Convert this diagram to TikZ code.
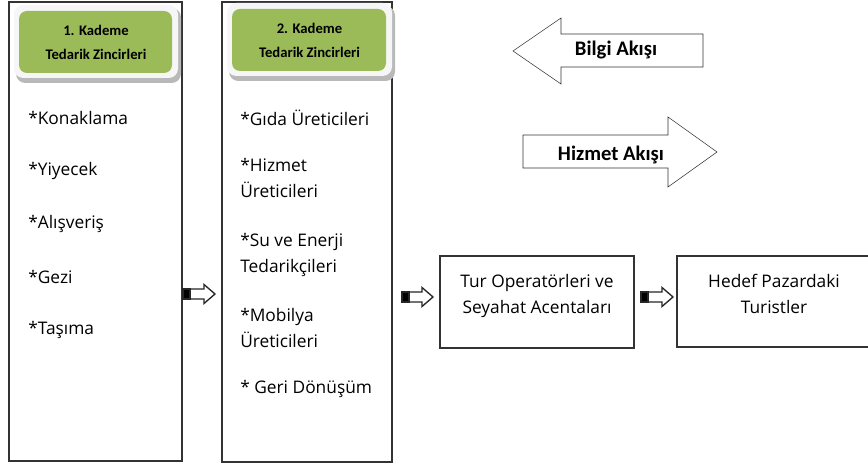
\documentclass[tikz,border=0pt]{standalone}
\usepackage{fontspec}
\setmainfont{Open Sans}
\newfontfamily\headfont{Carlito}
\usetikzlibrary{calc,positioning}

\definecolor{headgreen}{HTML}{9BBB59}

\tikzset{
  chainbox/.style={draw=black!80,line width=1pt},
  item/.style={anchor=west,align=left,inner sep=0pt,font=\fontsize{13}{19}\selectfont},
  headtext/.style={align=center,font=\headfont\bfseries\fontsize{11}{18}\selectfont},
  flowtext/.style={font=\headfont\bfseries\fontsize{15.5}{17}\selectfont}
}

% small block arrow with black tail
\newcommand\flowarr[2]{%
  \fill[black] ($(#1)+(0,-5)$) rectangle ($(#1)+(7,5)$);
  \draw[black!85,fill=white,line width=1pt,line join=miter] ($(#1)+(7,-5)$) -- ($(#2)+(-11,-5)$) -- ($(#2)+(-11,-9.5)$)
    -- (#2) -- ($(#2)+(-11,9.5)$) -- ($(#2)+(-11,5)$) -- ($(#1)+(7,5)$) -- cycle;
  \draw[black!85,line width=1pt] ($(#1)+(0,-5)$) rectangle ($(#1)+(7,5)$);
}

% green header with white frame and shadow
\newcommand\header[6]{%
  \fill[gray!55,rounded corners=7] (#1+2,#2+3) rectangle (#3+3,#4+5);
  \fill[gray!7,rounded corners=7] (#1,#2) rectangle (#3,#4);
  \fill[headgreen,rounded corners=6] (#1+5,#2+6) rectangle (#3-6,#4-5);
  \node[headtext] (#5) at ({(#1+#3)/2},{(#2+#4)/2+1}) {#6};
}

\begin{document}
\begin{tikzpicture}[x=0.75pt,y=-0.75pt]
\useasboundingbox (0,0) rectangle (868,466);

%tier 1
\draw[chainbox] (9,2) rectangle (182,461);
\header{14}{5}{178}{78}{h1}{1. Kademe\\Tedarik Zincirleri}
\node[item] (k1) at (28,118) {*Konaklama};
\node[item] (k2) at (28,171) {*Yiyecek};
\node[item] (k3) at (28,224) {*Alışveriş};
\node[item] (k4) at (28,277) {*Gezi};
\node[item] (k5) at (28,330) {*Taşıma};

%tier 2
\draw[chainbox] (222,2) rectangle (392,462);
\header{227}{3}{392}{76}{h2}{2. Kademe\\Tedarik Zincirleri}
\node[item] (g1) at (240,118) {*Gıda Üreticileri};
\node[item] (g2) at (240,178) {*Hizmet\\Üreticileri};
\node[item] (g3) at (240,255) {*Su ve Enerji\\Tedarikçileri};
\node[item] (g4) at (240,328) {*Mobilya\\Üreticileri};
\node[item] (g5) at (240,389) {* Geri Dönüşüm};

%operators and tourists
\draw[chainbox] (440,256) rectangle (634,348);
\node[item,anchor=center,align=center] (tur) at (537,296) {Tur Operatörleri ve\\Seyahat Acentaları};
\draw[chainbox] (677,256) rectangle (872,347);
\node[item,anchor=center,align=center] (hedef) at (774,294) {Hedef Pazardaki\\Turistler};

%small arrows
\coordinate (a1s) at (183,294); \coordinate (a1e) at (215,294);
\coordinate (a2s) at (402,297); \coordinate (a2e) at (433,297);
\coordinate (a3s) at (641,297); \coordinate (a3e) at (673,297);
\flowarr{a1s}{a1e}
\flowarr{a2s}{a2e}
\flowarr{a3s}{a3e}

%flow arrows
\draw[black!80,fill=white] (513,51) -- (561,18) -- (561,34) -- (703,34) -- (703,67) -- (561,67) -- (561,84) -- cycle;
\node[flowtext] (bilgi) at (616,50) {Bilgi Akışı};
\draw[black!80,fill=white] (717,152) -- (668,117) -- (668,135) -- (523,135) -- (523,168) -- (668,168) -- (668,187) -- cycle;
\node[flowtext] (hizmet) at (611,155) {Hizmet Akışı};

\end{tikzpicture}
\end{document}
